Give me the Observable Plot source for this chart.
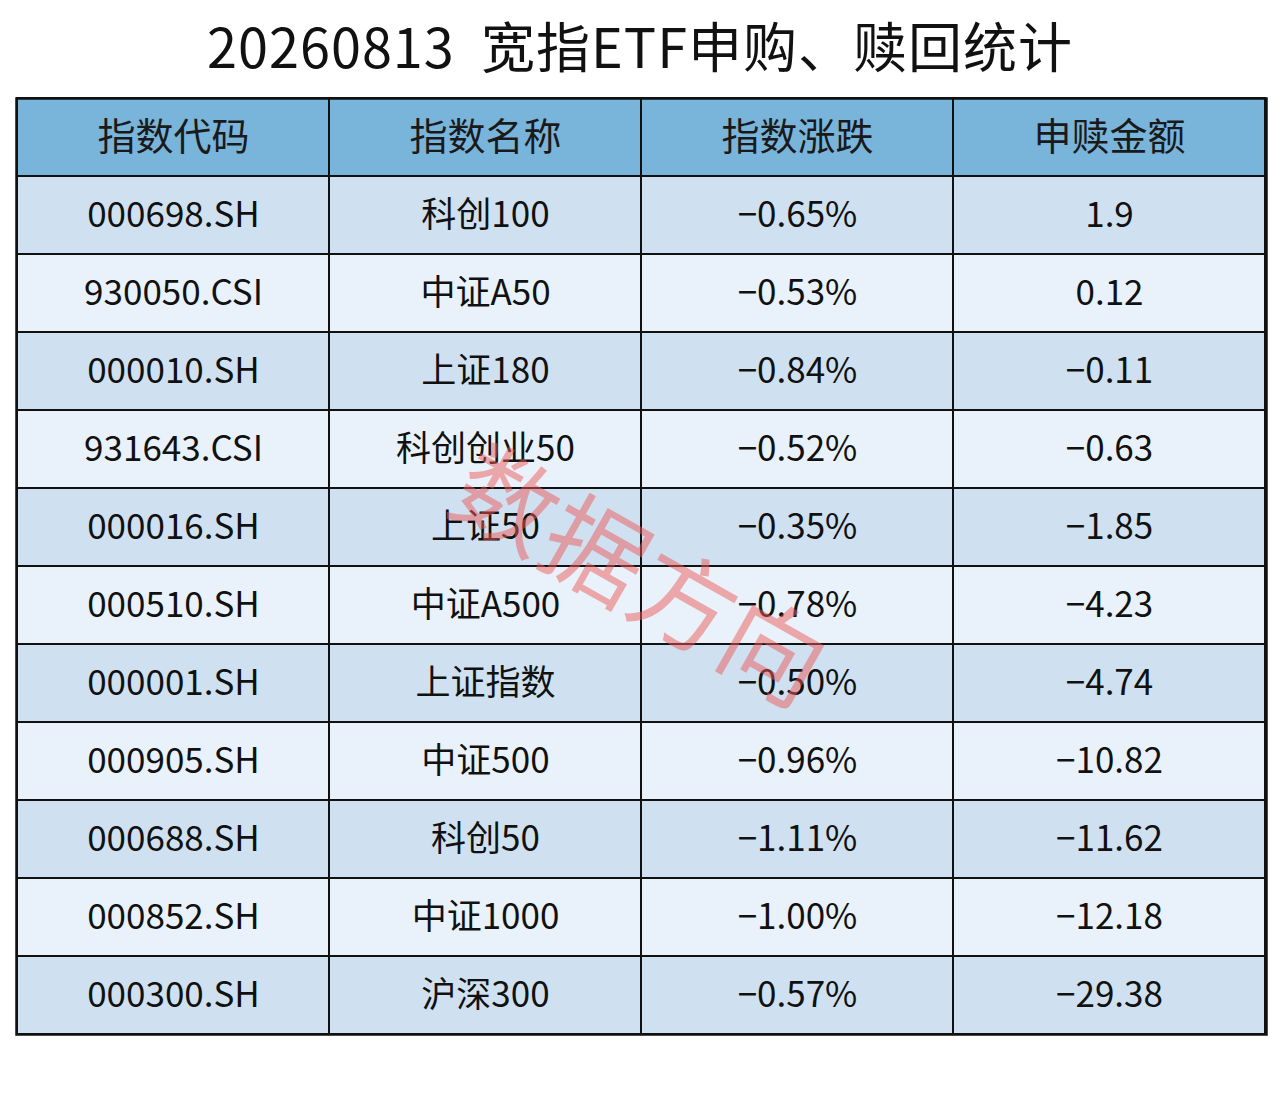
<!DOCTYPE html>
<html>
<head>
<meta charset="utf-8">
<script src="https://cdn.jsdelivr.net/npm/d3@7"></script>
<script src="https://cdn.jsdelivr.net/npm/@observablehq/plot@0.6"></script>
<style>
  html, body { margin: 0; padding: 0; background: #ffffff; }
  body { width: 1280px; height: 1105px; overflow: hidden; font-family: "Noto Sans CJK SC", sans-serif; }
  #title { height: 90px; line-height: 90px; text-align: center; font-size: 54px; font-weight: 400; color: #111; letter-spacing: 1px; }
  #chart svg { display: block; }
</style>
</head>
<body>
<div id="title">20260813&nbsp;&nbsp;宽指ETF申购、赎回统计</div>
<div id="chart"></div>
<script>
const titleText = "20260813 宽指ETF申购、赎回统计";
const headers = ["指数代码", "指数名称", "指数涨跌", "申赎金额"];
const codes = ["000698.SH", "930050.CSI", "000010.SH", "931643.CSI", "000016.SH", "000510.SH", "000001.SH", "000905.SH", "000688.SH", "000852.SH", "000300.SH"];
const names = ["科创100", "中证A50", "上证180", "科创创业50", "上证50", "中证A500", "上证指数", "中证500", "科创50", "中证1000", "沪深300"];
const changes = [-0.65, -0.53, -0.84, -0.52, -0.35, -0.78, -0.50, -0.96, -1.11, -1.00, -0.57];
const amounts = [1.9, 0.12, -0.11, -0.63, -1.85, -4.23, -4.74, -10.82, -11.62, -12.18, -29.38];
const watermark = "数据方向";

const headerFill = "#79b4da";
const darkRow = "#cfe1f0";
const lightRow = "#e9f2fa";

const rowKeys = ["header", ...codes];
const fmtPct = v => d3.format(".2f")(v).replace("-", "−") + "%";
const fmtAmt = v => String(v).replace("-", "−");

const cells = [];
headers.forEach((h, j) => cells.push({row: "header", col: h, text: h, fill: headerFill, header: true}));
codes.forEach((c, i) => {
  const fill = i % 2 === 0 ? darkRow : lightRow;
  const vals = [c, names[i], fmtPct(changes[i]), fmtAmt(amounts[i])];
  headers.forEach((h, j) => cells.push({row: c, col: h, text: vals[j], fill, header: false}));
});

const chart = Plot.plot({
  width: 1280,
  height: 1015,
  marginLeft: 16,
  marginRight: 14,
  marginTop: 8,
  marginBottom: 71,
  style: {background: "#ffffff", fontFamily: "'Noto Sans CJK SC', sans-serif"},
  x: {type: "band", domain: headers, padding: 0, axis: null},
  y: {type: "band", domain: rowKeys, padding: 0, axis: null},
  color: {type: "identity"},
  marks: [
    Plot.cell(cells, {x: "col", y: "row", fill: "fill", stroke: "#111", strokeWidth: 2, inset: 0}),
    Plot.text(cells.filter(d => d.header), {x: "col", y: "row", text: "text", fill: "#1a1a1a", fontSize: 38}),
    Plot.text(cells.filter(d => !d.header), {x: "col", y: "row", text: "text", fill: "#111", fontSize: 35}),
    Plot.frame({stroke: "#111", strokeWidth: 2.5}),
    Plot.text([watermark], {frameAnchor: "middle", text: d => d, rotate: 29.5, fontSize: 102, fill: "#ee5a5a", fillOpacity: 0.5, dx: -4, dy: 14, style: "letter-spacing:6px"})
  ]
});
document.getElementById("chart").appendChild(chart);
</script>
</body>
</html>
